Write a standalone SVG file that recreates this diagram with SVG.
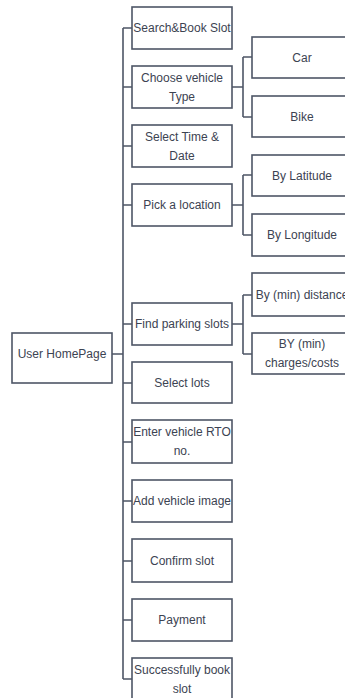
<svg xmlns="http://www.w3.org/2000/svg" width="345" height="698" viewBox="0 0 345 698">
<style>
.box{fill:#ffffff;stroke:#4e5666;stroke-width:1.6}
.ln{fill:none;stroke:#4e5666;stroke-width:1.6}
text{font-family:"Liberation Sans",Arial,sans-serif;font-size:12px;fill:#3c4352;text-anchor:middle}
</style>
<rect width="345" height="698" fill="#ffffff"/>
<g id="connectors">
<path class="ln" d="M112,354H123M123,28V679M123,28H132M123,87H132M123,146H132M123,205H132M123,324H132M123,383H132M123,442H132M123,501H132M123,561H132M123,620H132M123,679H132"/>
<path class="ln" d="M232,87H243M243,57V117M243,57H252M243,117H252"/>
<path class="ln" d="M232,205H243M243,175V235M243,175H252M243,235H252"/>
<path class="ln" d="M232,324H243M243,295V354M243,295H252M243,354H252"/>
</g>
<g id="home"><rect class="box" x="12" y="333" width="100" height="50"/><text x="62" y="358">User HomePage</text></g>
<g id="search"><rect class="box" x="132" y="7" width="100" height="42"/><text x="182" y="32">Search&amp;Book Slot</text></g>
<g id="choose"><rect class="box" x="132" y="66" width="100" height="42"/><text x="182" y="82">Choose vehicle</text><text x="182" y="101">Type</text></g>
<g id="time"><rect class="box" x="132" y="125" width="100" height="42"/><text x="182" y="141">Select Time &amp;</text><text x="182" y="160">Date</text></g>
<g id="location"><rect class="box" x="132" y="184" width="100" height="42"/><text x="182" y="209">Pick a location</text></g>
<g id="find"><rect class="box" x="132" y="303" width="100" height="42"/><text x="182" y="328">Find parking slots</text></g>
<g id="lots"><rect class="box" x="132" y="362" width="100" height="41"/><text x="182" y="387">Select lots</text></g>
<g id="rto"><rect class="box" x="132" y="420" width="100" height="43"/><text x="182" y="436">Enter vehicle RTO</text><text x="182" y="455">no.</text></g>
<g id="image"><rect class="box" x="132" y="480" width="100" height="42"/><text x="182" y="505">Add vehicle image</text></g>
<g id="confirm"><rect class="box" x="132" y="539" width="100" height="43"/><text x="182" y="565">Confirm slot</text></g>
<g id="payment"><rect class="box" x="132" y="599" width="100" height="42"/><text x="182" y="624">Payment</text></g>
<g id="success"><rect class="box" x="132" y="658" width="100" height="44"/><text x="182" y="674">Successfully book</text><text x="182" y="693">slot</text></g>
<g id="car"><rect class="box" x="252" y="37" width="102" height="41"/><text x="302" y="62">Car</text></g>
<g id="bike"><rect class="box" x="252" y="96" width="102" height="41"/><text x="302" y="121">Bike</text></g>
<g id="lat"><rect class="box" x="252" y="155" width="102" height="41"/><text x="302" y="180">By Latitude</text></g>
<g id="lon"><rect class="box" x="252" y="214" width="102" height="42"/><text x="302" y="239">By Longitude</text></g>
<g id="dist"><rect class="box" x="252" y="273" width="102" height="43"/><text x="302" y="299">By (min) distance</text></g>
<g id="cost"><rect class="box" x="252" y="333" width="102" height="41"/><text x="302" y="348">BY (min)</text><text x="302" y="367">charges/costs</text></g>
</svg>
